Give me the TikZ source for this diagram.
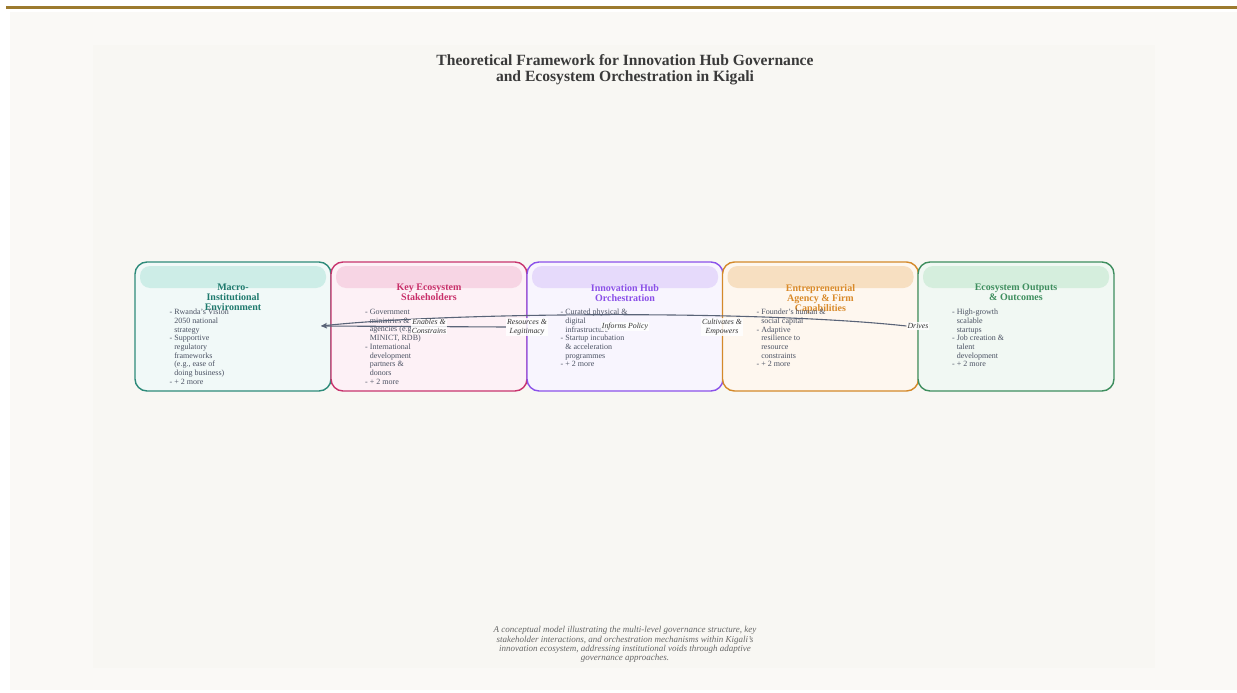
\documentclass[tikz,border=0pt]{standalone}
\usepackage{fontspec}
\setmainfont{Liberation Serif}
\usetikzlibrary{arrows.meta}
\definecolor{gold}{HTML}{9C7A2E}
\definecolor{panelbg}{HTML}{FAF9F6}
\definecolor{innerbg}{HTML}{F8F7F3}
\definecolor{tealB}{HTML}{2E8B7A}\definecolor{tealF}{HTML}{F1F9F8}\definecolor{tealH}{HTML}{CDEDE7}\definecolor{tealT}{HTML}{1F7A6E}
\definecolor{pinkB}{HTML}{C8356E}\definecolor{pinkF}{HTML}{FDF1F6}\definecolor{pinkH}{HTML}{F7D5E4}\definecolor{pinkT}{HTML}{C8306A}
\definecolor{purpB}{HTML}{8B52EA}\definecolor{purpF}{HTML}{F8F5FE}\definecolor{purpH}{HTML}{E6DAFB}\definecolor{purpT}{HTML}{8A4FE8}
\definecolor{orngB}{HTML}{D4892A}\definecolor{orngF}{HTML}{FEF7EF}\definecolor{orngH}{HTML}{F7DFC1}\definecolor{orngT}{HTML}{D98A2A}
\definecolor{grnB}{HTML}{3E8E5E}\definecolor{grnF}{HTML}{F1F8F3}\definecolor{grnH}{HTML}{D5EEDD}\definecolor{grnT}{HTML}{3E8E5E}
\definecolor{bodytxt}{HTML}{4B5263}
\definecolor{edgecol}{HTML}{5A6478}
\definecolor{titletxt}{HTML}{3A3A3A}
\definecolor{captxt}{HTML}{666666}
\pgfdeclarelayer{edges}
\pgfdeclarelayer{labels}
\pgfsetlayers{main,edges,labels}
\tikzset{
  box/.style={draw, rounded corners=12pt, line width=1.4pt, minimum width=196pt, minimum height=129pt, inner sep=0pt},
  hdr/.style={rounded corners=10pt, minimum width=186pt, minimum height=22pt, inner sep=0pt},
  ttl/.style={anchor=north, align=center, inner sep=0pt, font=\fontsize{10}{10}\selectfont\bfseries},
  items/.style={anchor=north west, align=left, inner sep=0pt, text=bodytxt, font=\fontsize{8}{8.7}\selectfont},
  elabel/.style={align=center, inner sep=1pt, fill=white, fill opacity=0.85, text opacity=1, font=\fontsize{7.8}{8.5}\selectfont\itshape, text=black!80},
  conn/.style={draw=edgecol, line width=1.1pt, -{Stealth[length=6pt,width=5pt]}},
}
\newcommand{\ind}{\hspace*{4.6pt}}
\begin{document}
\begin{tikzpicture}[x=1pt,y=-1pt]
\useasboundingbox (0,0) rectangle (1237,693);
\fill[white] (0,0) rectangle (1237,693);
\fill[gold] (6,6) rectangle (1237,9);
\fill[panelbg] (10,12) rectangle (1237,690);
\fill[innerbg] (93,45) rectangle (1155,668);

\node[align=center, inner sep=0pt, text=titletxt, font=\fontsize{15.6}{16}\selectfont\bfseries] (title) at (625,69.5)
  {Theoretical Framework for Innovation Hub Governance\\and Ecosystem Orchestration in Kigali};

% boxes
\node[box, draw=tealB, fill=tealF] (b1) at (233,326.5) {};
\node[box, draw=pinkB, fill=pinkF] (b2) at (429,326.5) {};
\node[box, draw=purpB, fill=purpF] (b3) at (625,326.5) {};
\node[box, draw=orngB, fill=orngF] (b4) at (820.5,326.5) {};
\node[box, draw=grnB, fill=grnF] (b5) at (1016,326.5) {};

\node[hdr, fill=tealH] (h1) at (233,277) {};
\node[hdr, fill=pinkH] (h2) at (429,277) {};
\node[hdr, fill=purpH] (h3) at (625,277) {};
\node[hdr, fill=orngH] (h4) at (820.5,277) {};
\node[hdr, fill=grnH] (h5) at (1016,277) {};

\node[ttl, text=tealT] (t1) at (233,284) {Macro-\\Institutional\\Environment};
\node[ttl, text=pinkT] (t2) at (429,284) {Key Ecosystem\\Stakeholders};
\node[ttl, text=purpT] (t3) at (625,284) {Innovation Hub\\Orchestration};
\node[ttl, text=orngT] (t4) at (820.5,284) {Entrepreneurial\\Agency \& Firm\\Capabilities};
\node[ttl, text=grnT] (t5) at (1016,284) {Ecosystem Outputs\\\& Outcomes};

\node[items] (i1) at (169.5,309) {- Rwanda's Vision\\\ind 2050 national\\\ind strategy\\- Supportive\\\ind regulatory\\\ind frameworks\\\ind (e.g., ease of\\\ind doing business)\\- + 2 more};
\node[items] (i2) at (365,309) {- Government\\\ind ministries \&\\\ind agencies (e.g\\\ind MINICT, RDB)\\- International\\\ind development\\\ind partners \&\\\ind donors\\- + 2 more};
\node[items] (i3) at (560.5,309) {- Curated physical \&\\\ind digital\\\ind infrastructure\\- Startup incubation\\\ind \& acceleration\\\ind programmes\\- + 2 more};
\node[items] (i4) at (756.5,309) {- Founder's human \&\\\ind social capital\\- Adaptive\\\ind resilience to\\\ind resource\\\ind constraints\\- + 2 more};
\node[items] (i5) at (952,309) {- High-growth\\\ind scalable\\\ind startups\\- Job creation \&\\\ind talent\\\ind development\\- + 2 more};

% edge labels
\begin{pgfonlayer}{labels}
\node[elabel] (enb) at (429,326.5) {Enables \&\\Constrains};
\node[elabel] (res) at (527,327) {Resources \&\\Legitimacy};
\node[elabel] (inf) at (625,326.5) {Informs Policy};
\node[elabel] (cul) at (722,327) {Cultivates \&\\Empowers};
\node[elabel] (drv) at (918,326) {Drives};
\end{pgfonlayer}

\coordinate (tgt) at (321,326);
\begin{pgfonlayer}{edges}
\draw[conn] (drv.west) .. controls (760,310) and (450,312) .. (tgt);
\draw[conn] (res.west) -- (tgt);
\end{pgfonlayer}

\node[align=center, inner sep=0pt, text=captxt, font=\fontsize{9}{9.3}\selectfont\itshape] (cap) at (625,644.5)
  {A conceptual model illustrating the multi-level governance structure, key\\stakeholder interactions, and orchestration mechanisms within Kigali's\\innovation ecosystem, addressing institutional voids through adaptive\\governance approaches.};
\end{tikzpicture}
\end{document}
